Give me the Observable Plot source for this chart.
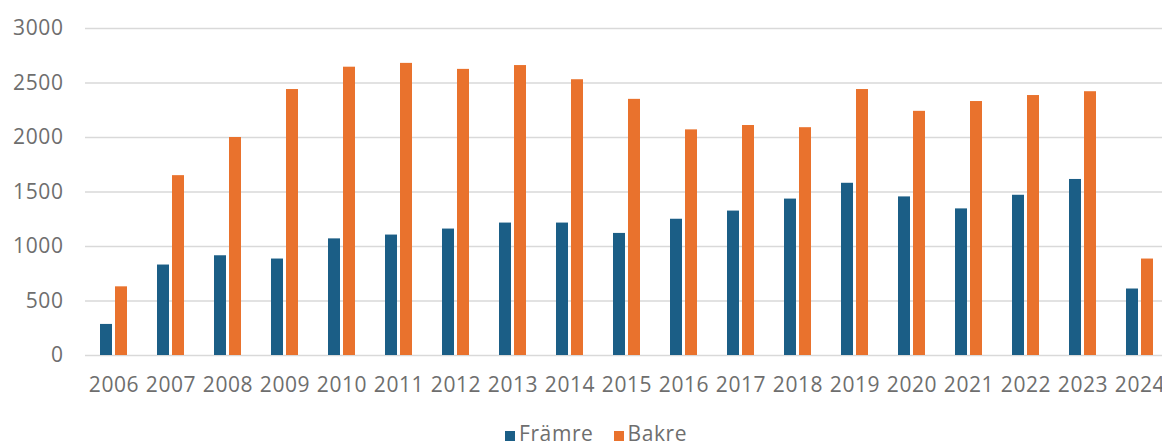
<!DOCTYPE html>
<html>
<head>
<meta charset="utf-8">
<script src="https://cdn.jsdelivr.net/npm/d3@7"></script>
<script src="https://cdn.jsdelivr.net/npm/@observablehq/plot@0.6"></script>
<style>
  html, body { margin: 0; padding: 0; background: #fff; overflow: hidden; width: 1162px; height: 445px; }
  #chart { position: absolute; left: 0; top: 0; width: 1170px; }
  #legend { position: absolute; left: 505px; top: 423px; font-family: "Open Sans", sans-serif; font-size: 21px; line-height: 21px; letter-spacing: 0.6px; color: #6e6e6e; white-space: nowrap; }
  #legend span.sw { display: inline-block; width: 10px; height: 10px; margin-right: 4px; vertical-align: baseline; }
  #legend span.item { margin-right: 20px; }
</style>
</head>
<body>
<div id="chart"></div>
<div id="legend"></div>
<script>
const years = ["2006","2007","2008","2009","2010","2011","2012","2013","2014","2015","2016","2017","2018","2019","2020","2021","2022","2023","2024"];
const framre = [285, 830, 915, 885, 1070, 1105, 1160, 1215, 1215, 1120, 1250, 1325, 1435, 1580, 1455, 1345, 1470, 1615, 610];
const bakre = [630, 1650, 2000, 2440, 2645, 2680, 2625, 2660, 2530, 2350, 2070, 2110, 2090, 2440, 2240, 2330, 2385, 2420, 885];
const series = ["Främre", "Bakre"];
const colors = ["#1b5e86", "#e9722d"];
const yTicks = [0, 500, 1000, 1500, 2000, 2500, 3000];

const data = years.flatMap((yr, i) => [
  {year: yr, serie: series[0], value: framre[i]},
  {year: yr, serie: series[1], value: bakre[i]}
]);

const chart = Plot.plot({
  width: 1170,
  height: 405,
  marginLeft: 83,
  marginRight: 0,
  marginTop: 28,
  marginBottom: 50,
  style: {fontFamily: "'Open Sans', sans-serif", fontSize: "21px", letterSpacing: "0.6px", color: "#6e6e6e", background: "transparent", overflow: "visible", maxWidth: "none"},
  fx: {domain: years, padding: 0, label: null, axis: "bottom", tickSize: 0, tickPadding: 22},
  x: {domain: series, paddingInner: 0.19, paddingOuter: 0.88, axis: null},
  y: {domain: [0, 3000], ticks: yTicks, tickFormat: d => String(d), tickSize: 0, tickPadding: 22, label: null},
  color: {domain: series, range: colors},
  marks: [
    Plot.ruleY(yTicks, {stroke: "#d9d9d9", strokeWidth: 1.5}),
    Plot.barY(data, {fx: "year", x: "serie", y: "value", fill: "serie"})
  ]
});
document.getElementById("chart").appendChild(chart);

const legend = document.getElementById("legend");
series.forEach((s, i) => {
  const item = document.createElement("span");
  item.className = "item";
  const sw = document.createElement("span");
  sw.className = "sw";
  sw.style.background = colors[i];
  item.appendChild(sw);
  item.appendChild(document.createTextNode(s));
  legend.appendChild(item);
});
</script>
</body>
</html>
